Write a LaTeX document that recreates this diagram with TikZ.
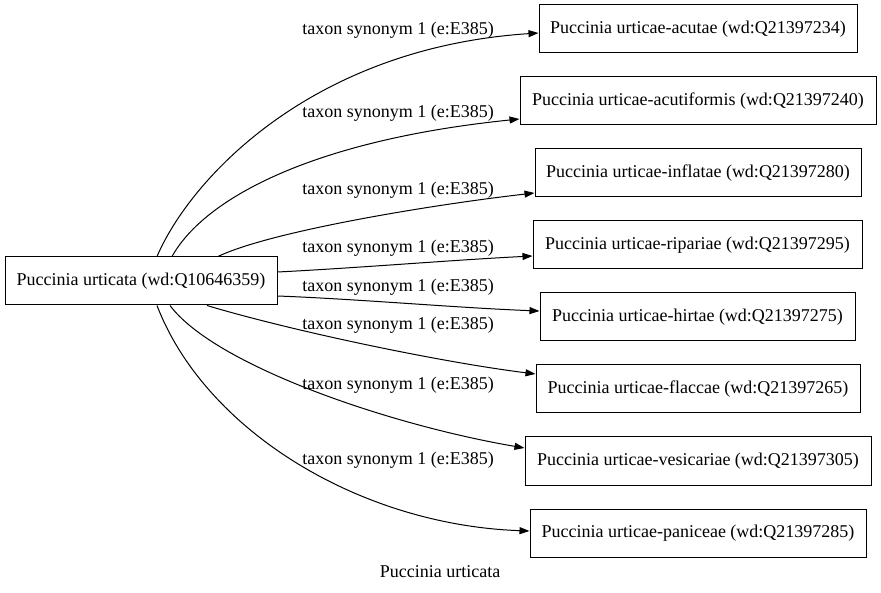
\documentclass[tikz,border=0pt]{standalone}
\usepackage{fontspec}
\setmainfont{Liberation Serif}
\usetikzlibrary{arrows.meta}
\tikzset{
  box/.style={draw, line width=1pt, inner sep=0pt, minimum height=48pt, align=center},
  elabel/.style={inner sep=0pt},
  edge/.style={line width=1pt, -{Triangle[length=10pt,width=7pt]}},
}
\begin{document}
\begin{tikzpicture}[x=1pt,y=-1pt,font=\fontsize{18pt}{20pt}\selectfont]
\useasboundingbox (0,0) rectangle (881,593);
\node[box, minimum width=272pt] (src) at (141,281) {Puccinia urticata (wd:Q10646359)};
\node[box, minimum width=318pt] (t1) at (698,29) {Puccinia urticae-acutae (wd:Q21397234)};
\node[box, minimum width=356pt] (t2) at (698,101) {Puccinia urticae-acutiformis (wd:Q21397240)};
\node[box, minimum width=326pt] (t3) at (698,173) {Puccinia urticae-inflatae (wd:Q21397280)};
\node[box, minimum width=329pt] (t4) at (697.5,245) {Puccinia urticae-ripariae (wd:Q21397295)};
\node[box, minimum width=315pt] (t5) at (697.5,317) {Puccinia urticae-hirtae (wd:Q21397275)};
\node[box, minimum width=324pt] (t6) at (698,389) {Puccinia urticae-flaccae (wd:Q21397265)};
\node[box, minimum width=346pt] (t7) at (698,461) {Puccinia urticae-vesicariae (wd:Q21397305)};
\node[box, minimum width=336pt] (t8) at (698,533) {Puccinia urticae-paniceae (wd:Q21397285)};
\node[elabel] (l1) at (398,30) {taxon synonym 1 (e:E385)};
\node[elabel] (l2) at (398,113) {taxon synonym 1 (e:E385)};
\node[elabel] (l3) at (398,190) {taxon synonym 1 (e:E385)};
\node[elabel] (l4) at (398,248) {taxon synonym 1 (e:E385)};
\node[elabel] (l5) at (398,287) {taxon synonym 1 (e:E385)};
\node[elabel] (l6) at (398,325) {taxon synonym 1 (e:E385)};
\node[elabel] (l7) at (398,385) {taxon synonym 1 (e:E385)};
\node[elabel] (l8) at (398,460) {taxon synonym 1 (e:E385)};
\node[elabel] (title) at (440,572) {Puccinia urticata};
\draw[edge] ([xshift=16pt]src.north) .. controls +(33,-77) and +(-228,15) .. ([yshift=-4pt]t1.west);
\draw[edge] ([xshift=31pt]src.north) .. controls +(33,-59) and +(-205,21) .. ([yshift=-18pt]t2.west);
\draw[edge] ([xshift=77pt]src.north) .. controls +(52,-25) and +(-105,12) .. ([yshift=-20pt]t3.west);
\draw[edge] ([yshift=9pt]src.east) .. controls +(80,-4) and +(-80,4) .. ([yshift=-11pt]t4.west);
\draw[edge] ([yshift=-15pt]src.east) .. controls +(80,3) and +(-80,-3) .. ([yshift=6pt]t5.west);
\draw[edge] ([xshift=66pt]src.south) .. controls +(83,25) and +(-96,-12) .. ([yshift=15pt]t6.west);
\draw[edge] ([xshift=29pt]src.south) .. controls +(45,60) and +(-135,-23) .. ([yshift=13pt]t7.west);
\draw[edge] ([xshift=16pt]src.south) .. controls +(48,125) and +(-170,-6) .. ([yshift=2pt]t8.west);
\end{tikzpicture}
\end{document}
